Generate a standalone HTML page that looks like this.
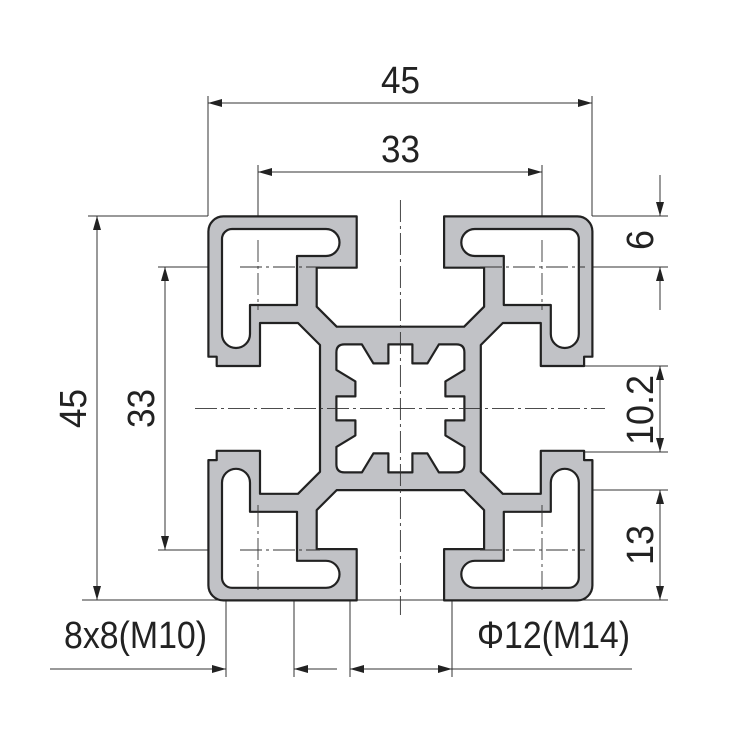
<!DOCTYPE html>
<html><head><meta charset="utf-8"><style>html,body{margin:0;padding:0;background:#fff}svg{display:block}</style></head>
<body>
<svg width="750" height="750" viewBox="0 0 750 750" xmlns="http://www.w3.org/2000/svg">
<defs>
<marker id="ah" viewBox="0 0 14 8" refX="14" refY="4" markerWidth="14" markerHeight="8" markerUnits="userSpaceOnUse" orient="auto-start-reverse"><path d="M0,0 L14,4 L0,8 Z" fill="#222"/></marker>
</defs>
<rect width="750" height="750" fill="#fff"/>
<g stroke="#333" stroke-width="1" fill="none">
<!-- top 45 -->
<line x1="208" y1="96" x2="208" y2="216"/><line x1="592" y1="96" x2="592" y2="216"/>
<line x1="208" y1="103" x2="592" y2="103" marker-start="url(#ah)" marker-end="url(#ah)"/>
<!-- top 33 -->
<line x1="258" y1="165" x2="258" y2="240"/><line x1="542" y1="165" x2="542" y2="240"/>
<line x1="258" y1="172" x2="542" y2="172" marker-start="url(#ah)" marker-end="url(#ah)"/>
<!-- left 45 -->
<line x1="88" y1="216" x2="208" y2="216"/><line x1="82" y1="600" x2="668" y2="600"/>
<line x1="97" y1="216" x2="97" y2="600" marker-start="url(#ah)" marker-end="url(#ah)"/>
<!-- left 33 -->
<line x1="158" y1="267" x2="240" y2="267"/><line x1="158" y1="550" x2="240" y2="550"/>
<line x1="165" y1="267" x2="165" y2="550" marker-start="url(#ah)" marker-end="url(#ah)"/>
<!-- right -->
<line x1="592" y1="216" x2="668" y2="216"/><line x1="560" y1="267" x2="668" y2="267"/>
<line x1="660" y1="175" x2="660" y2="216" marker-end="url(#ah)"/>
<line x1="660" y1="310" x2="660" y2="267" marker-end="url(#ah)"/>
<line x1="585" y1="366" x2="668" y2="366"/><line x1="585" y1="452" x2="668" y2="452"/>
<line x1="660" y1="366" x2="660" y2="452" marker-start="url(#ah)" marker-end="url(#ah)"/>
<line x1="560" y1="490" x2="668" y2="490"/>
<line x1="660" y1="490" x2="660" y2="600" marker-start="url(#ah)" marker-end="url(#ah)"/>
<!-- bottom -->
<line x1="226" y1="600" x2="226" y2="677"/><line x1="294" y1="600" x2="294" y2="677"/>
<line x1="350" y1="600" x2="350" y2="677"/><line x1="452" y1="600" x2="452" y2="677"/>
<line x1="50" y1="669" x2="226" y2="669" marker-end="url(#ah)"/>
<line x1="337" y1="669" x2="294" y2="669" marker-end="url(#ah)"/>
<line x1="350" y1="669" x2="452" y2="669" marker-start="url(#ah)" marker-end="url(#ah)"/>
<line x1="452" y1="669" x2="632" y2="669"/>
</g>
<g transform="translate(400.4,408.4)" stroke="#222" stroke-width="2.2" stroke-linejoin="round">
<path fill="#c1c2c6" d="M0,-81.7 L-63.7,-81.7 L-83.7,-101.7 L-83.7,-140.7 L-43.7,-140.7 L-43.7,-192 L-177,-192 A15,15 0 0 0 -192,-177 L-192,-51.7 L-183.7,-51.7 L-183.7,-42.4 L-140.4,-42.4 L-140.4,-85.4 L-102.4,-85.4 L-80.4,-63.4 L-80.4,63.4 L-102.4,85.4 L-140.4,85.4 L-140.4,42.4 L-183.7,42.4 L-183.7,51.7 L-192,51.7 L-192,177 A15,15 0 0 0 -177,192 L-43.7,192 L-43.7,140.7 L-83.7,140.7 L-83.7,101.7 L-63.7,81.7 L63.7,81.7 L83.7,101.7 L83.7,140.7 L43.7,140.7 L43.7,192 L177,192 A15,15 0 0 0 192,177 L192,51.7 L183.7,51.7 L183.7,42.4 L140.4,42.4 L140.4,85.4 L102.4,85.4 L80.4,63.4 L80.4,-63.4 L102.4,-85.4 L140.4,-85.4 L140.4,-42.4 L183.7,-42.4 L183.7,-51.7 L192,-51.7 L192,-177 A15,15 0 0 0 177,-192 L43.7,-192 L43.7,-140.7 L83.7,-140.7 L83.7,-101.7 L63.7,-81.7 Z"/>
<g fill="#fff">
<path id="cv" d="M-168.4,-179.4 H-74.4 A13.5,13.5 0 0 1 -74.4,-152.4 H-103.4 V-103.4 H-150.4 V-74.4 A14,14 0 0 1 -178.4,-74.4 V-169.4 A10,10 0 0 1 -168.4,-179.4 Z"/>
<path d="M-168.4,-179.4 H-74.4 A13.5,13.5 0 0 1 -74.4,-152.4 H-103.4 V-103.4 H-150.4 V-74.4 A14,14 0 0 1 -178.4,-74.4 V-169.4 A10,10 0 0 1 -168.4,-179.4 Z" transform="scale(-1,1)"/>
<path d="M-168.4,-179.4 H-74.4 A13.5,13.5 0 0 1 -74.4,-152.4 H-103.4 V-103.4 H-150.4 V-74.4 A14,14 0 0 1 -178.4,-74.4 V-169.4 A10,10 0 0 1 -168.4,-179.4 Z" transform="scale(1,-1)"/>
<path d="M-168.4,-179.4 H-74.4 A13.5,13.5 0 0 1 -74.4,-152.4 H-103.4 V-103.4 H-150.4 V-74.4 A14,14 0 0 1 -178.4,-74.4 V-169.4 A10,10 0 0 1 -168.4,-179.4 Z" transform="scale(-1,-1)"/>
<path d="M-56,-64 L-38.5,-64 L-27,-45 L-12,-45 L-12,-64 L12,-64 L12,-45 L27,-45 L38.5,-64 L56,-64 Q64,-64 64,-56 L64,-38.5 L45,-27 L45,-12 L64,-12 L64,12 L45,12 L45,27 L64,38.5 L64,56 Q64,64 56,64 L38.5,64 L27,45 L12,45 L12,64 L-12,64 L-12,45 L-27,45 L-38.5,64 L-56,64 Q-64,64 -64,56 L-64,38.5 L-45,27 L-45,12 L-64,12 L-64,-12 L-45,-12 L-45,-27 L-64,-38.5 L-64,-56 Q-64,-64 -56,-64 Z"/>
</g>
</g>
<!-- center lines -->
<g stroke="#333" stroke-width="0.9" fill="none" stroke-dasharray="22,4,3,4">
<line x1="400.4" y1="200" x2="400.4" y2="615"/>
<line x1="195" y1="408.4" x2="605" y2="408.4"/>
<line x1="258" y1="240" x2="258" y2="310"/><line x1="542" y1="240" x2="542" y2="310"/>
<line x1="258" y1="505" x2="258" y2="590"/><line x1="542" y1="505" x2="542" y2="590"/>
<line x1="240" y1="267" x2="320" y2="267"/><line x1="480" y1="267" x2="585" y2="267"/>
<line x1="240" y1="550" x2="320" y2="550"/><line x1="480" y1="550" x2="585" y2="550"/>
</g>
<g font-family="'Liberation Sans', sans-serif" font-size="38" fill="#222" lengthAdjust="spacingAndGlyphs">
<text x="381" y="93" textLength="39" lengthAdjust="spacingAndGlyphs">45</text>
<text x="381" y="162" textLength="39" lengthAdjust="spacingAndGlyphs">33</text>
<text transform="translate(86,428) rotate(-90)" textLength="39" lengthAdjust="spacingAndGlyphs">45</text>
<text transform="translate(154,428) rotate(-90)" textLength="39" lengthAdjust="spacingAndGlyphs">33</text>
<text transform="translate(653,250) rotate(-90)" textLength="20" lengthAdjust="spacingAndGlyphs">6</text>
<text transform="translate(653,445) rotate(-90)" textLength="70" lengthAdjust="spacingAndGlyphs">10.2</text>
<text transform="translate(653,565) rotate(-90)" textLength="40" lengthAdjust="spacingAndGlyphs">13</text>
<text x="64" y="648" textLength="143" lengthAdjust="spacingAndGlyphs">8x8(M10)</text>
<text x="477" y="648" textLength="153" lengthAdjust="spacingAndGlyphs">Φ12(M14)</text>
</g>
</svg>
</body></html>
